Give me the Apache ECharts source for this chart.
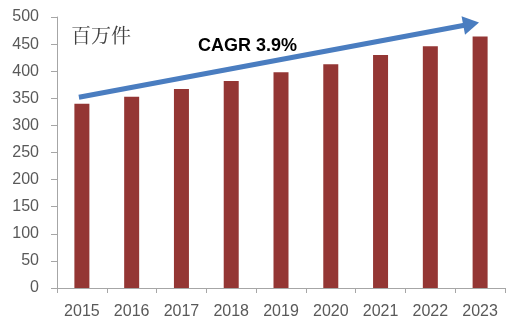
<!DOCTYPE html>
<html><head><meta charset="utf-8">
<script src="https://cdn.jsdelivr.net/npm/echarts@6/dist/echarts.min.js"></script>
<style>html,body{margin:0;padding:0;background:#fff}#c{width:520px;height:331px}</style>
</head><body><div id="c"></div>
<script>
var years = ['2015','2016','2017','2018','2019','2020','2021','2022','2023'];
var values = [340, 353, 367, 382, 398, 413, 430, 446, 464];
var unitLabel = '百万件';
var cagrLabel = 'CAGR 3.9%';
var arrowStart = [-0.06, 352];
var arrowEnd = [7.82, 487];

var chart = echarts.init(document.getElementById('c'));
chart.setOption({
  animation: false,
  backgroundColor: '#fff',
  grid: {left: 57, right: 15, top: 17, bottom: 43},
  title: [
    {text: unitLabel, left: 66, top: 20, textStyle: {fontFamily: "'Noto Serif CJK SC', 'Noto Sans CJK SC'", fontSize: 20, fontWeight: 'normal', color: '#404040'}},
    {text: cagrLabel, left: 193, top: 32, textStyle: {fontFamily: 'Liberation Sans', fontSize: 18, fontWeight: 'bold', color: '#000'}}
  ],
  xAxis: [{
    type: 'category', data: years,
    axisLine: {onZero: false, lineStyle: {color: '#a6a6a6', width: 1}},
    axisTick: {show: true, length: 5, lineStyle: {color: '#a6a6a6'}},
    axisLabel: {color: '#595959', fontSize: 16, fontFamily: 'Liberation Sans', margin: 16}
  }, {
    type: 'value', min: -0.5, max: years.length - 0.5, show: false,
    axisLine: {show: false, onZero: false}, splitLine: {show: false}
  }],
  yAxis: {
    type: 'value', min: 0, max: 500, interval: 50,
    splitLine: {show: false},
    axisLine: {show: true, onZero: false, lineStyle: {color: '#a6a6a6', width: 1}},
    axisTick: {show: true, length: 6, lineStyle: {color: '#a6a6a6'}},
    axisLabel: {color: '#595959', fontSize: 16, fontFamily: 'Liberation Sans', margin: 18}
  },
  series: [{
    type: 'bar', data: values, barWidth: 15,
    itemStyle: {color: '#943634'}
  }, {
    type: 'line', xAxisIndex: 1, data: [], silent: true,
    markLine: {
      silent: true,
      symbol: ['none', 'triangle'],
      symbolSize: [19, 16],
      label: {show: false},
      lineStyle: {color: '#4a7dc0', width: 5, type: 'solid'},
      data: [[{coord: arrowStart}, {coord: arrowEnd}]]
    }
  }]
});
</script></body></html>
